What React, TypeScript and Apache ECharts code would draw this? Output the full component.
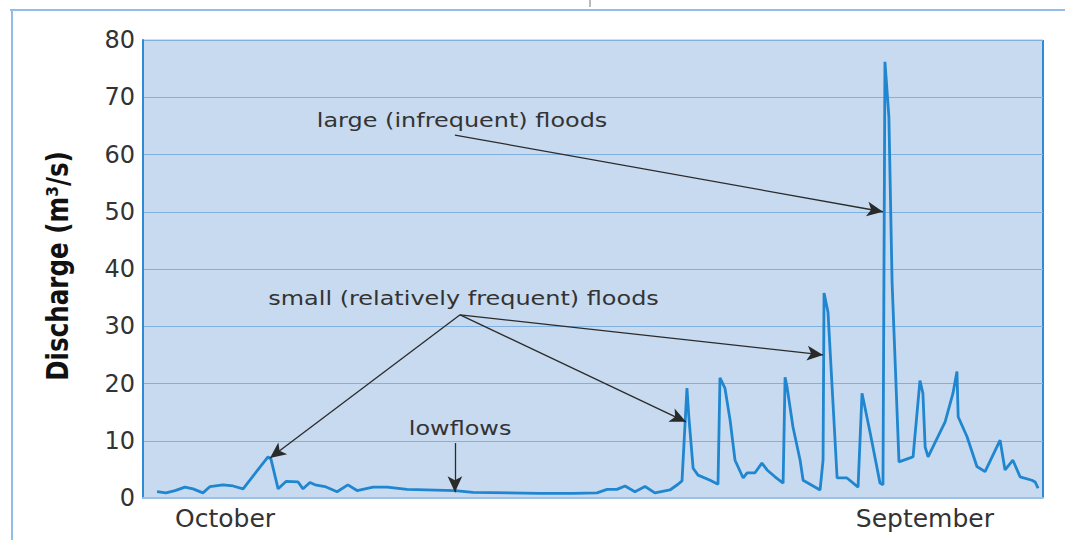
import React, { useEffect, useRef } from "react";
import * as echarts from "echarts";

// Discharge record (day of water year, m³/s)
const days = [
  5.7, 9.3, 13.0, 17.0, 20.3, 24.3, 27.2, 32.4, 36.5, 40.6, 50.7, 51.9, 54.8, 58.0, 62.9, 64.9,
  67.7, 69.8, 73.8, 78.7, 83.1, 86.8, 93.3, 99.0, 107.1, 126.5, 133.8, 161.0, 174.4, 184.1, 188.2,
  192.2, 195.5, 199.5, 203.6, 207.6, 213.7, 217.0, 218.6, 220.6, 221.4, 223.1, 225.1, 230.0, 233.2,
  234.0, 236.0, 238.1, 240.1, 243.4, 245.0, 248.2, 251.0, 253.1, 256.3, 259.6, 260.4, 261.2, 263.6,
  266.5, 267.7, 274.6, 275.8, 276.2, 277.8, 281.5, 285.5, 290.0, 291.6, 294.9, 298.9, 300.1, 300.9,
  302.5, 303.8, 306.6, 311.1, 312.3, 315.1, 316.3, 317.2, 318.4, 325.3, 328.5, 330.1, 330.6, 334.2,
  338.2, 341.5, 347.6, 349.6, 352.8, 355.7, 360.5, 361.8, 363.0,
];
const discharge = [
  1.1, 0.9, 1.3, 1.9, 1.6, 0.9, 2.0, 2.3, 2.1, 1.6, 7.2, 6.8, 1.6, 2.9, 2.8, 1.6,
  2.7, 2.3, 2.0, 1.1, 2.3, 1.3, 1.9, 1.9, 1.5, 1.3, 1.0, 0.8, 0.8, 0.9, 1.5,
  1.5, 2.1, 1.1, 2.0, 0.9, 1.4, 2.4, 3.0, 19.2, 14.0, 5.2, 4.0, 3.1, 2.4,
  21.0, 19.2, 13.6, 6.6, 3.5, 4.4, 4.4, 6.1, 4.9, 3.7, 2.6, 21.1, 19.4, 12.4,
  6.6, 3.1, 1.4, 6.6, 35.8, 32.5, 3.5, 3.5, 1.9, 18.3, 11.4, 2.6, 2.3, 76.2,
  66.6, 37.6, 6.3, 7.0, 7.2, 20.5, 18.3, 8.9, 7.2, 13.3, 18.3, 22.1, 14.2, 10.7,
  5.5, 4.6, 10.1, 4.9, 6.6, 3.7, 3.1, 2.8, 1.7,
];

const xTickDays = [33.3, 317.1];
const xTickLabels = ["October", "September"];
const yMin = 0;
const yMax = 80;
const yStep = 10;
const yAxisTitle = "Discharge (m³/s)";

// Annotations: label text, label position, arrow targets
const annoLabels = ["large (infrequent) floods", "small (relatively frequent) floods", "lowflows"];
const annoLabelPos = [
  [129.4, 66.0],
  [130.0, 34.8],
  [128.6, 12.1],
];
const annoArrowStart = [
  [126.5, 63.4],
  [128.6, 32.0],
  [126.5, 9.6],
];
const annoArrowEnds = [
  [[300.1, 50.0]],
  [
    [51.5, 7.0],
    [220.2, 13.3],
    [275.8, 25.0],
  ],
  [[126.5, 1.0]],
];

export default function App() {
  const ref = useRef<HTMLDivElement>(null);
  useEffect(() => {
    if (!ref.current) return;
    const chart = echarts.init(ref.current, undefined, { renderer: "svg" });
    const seriesData = days.map((d, i) => [d, discharge[i]]);
    const arrows: any[] = [];
    annoArrowEnds.forEach((ends, i) => {
      ends.forEach((e) => {
        arrows.push([{ coord: annoArrowStart[i] }, { coord: e }]);
      });
    });
    const frameGraphics: any[] = [
      { type: "line", shape: { x1: 10, y1: 10, x2: 1065, y2: 10 }, style: { stroke: "#93bde6", lineWidth: 2 } },
      { type: "line", shape: { x1: 12, y1: 10, x2: 12, y2: 540 }, style: { stroke: "#93bde6", lineWidth: 2 } },
      { type: "line", shape: { x1: 590, y1: 0, x2: 590, y2: 7 }, style: { stroke: "#777777", lineWidth: 1 } },
      { type: "line", shape: { x1: 1043, y1: 40, x2: 1043, y2: 498 }, style: { stroke: "#2f8ad6", lineWidth: 2 } },
      {
        type: "text",
        x: 58,
        y: 266,
        rotation: Math.PI / 2,
        scaleX: 0.82,
        style: {
          text: yAxisTitle,
          fill: "#111111",
          font: "bold 30px 'DejaVu Sans', sans-serif",
          textAlign: "center",
          textVerticalAlign: "middle",
        },
      },
    ];
    chart.setOption({
      animation: false,
      backgroundColor: "#ffffff",
      grid: {
        left: 143,
        right: 22,
        top: 40,
        bottom: 42,
        show: true,
        backgroundColor: "#c7daf0",
        borderColor: "#9cc0e6",
        borderWidth: 1,
      },
      xAxis: {
        type: "value",
        min: 0,
        max: 365,
        axisLine: { show: true, onZero: false, lineStyle: { color: "#9cc0e6", width: 2 } },
        axisTick: { show: false },
        splitLine: { show: false },
        axisLabel: {
          customValues: xTickDays,
          formatter: (v: number) => {
            const i = xTickDays.findIndex((d) => Math.abs(d - v) < 0.01);
            return i >= 0 ? xTickLabels[i] : "";
          },
          color: "#333333",
          fontFamily: "DejaVu Sans",
          fontSize: 25,
          margin: 8,
        },
      },
      yAxis: {
        type: "value",
        min: yMin,
        max: yMax,
        interval: yStep,
        axisLine: { show: true, lineStyle: { color: "#2f8ad6", width: 2 } },
        axisTick: { show: false },
        splitLine: { show: true, lineStyle: { color: "#7fb0e0", width: 1.2 } },
        axisLabel: {
          color: "#333333",
          fontFamily: "DejaVu Sans",
          fontSize: 24,
          margin: 8,
        },
      },
      graphic: frameGraphics,
      series: [
        {
          type: "line",
          data: seriesData,
          showSymbol: false,
          symbol: "none",
          lineStyle: { color: "#1f86cf", width: 2.8 },
          z: 3,
          markLine: {
            silent: true,
            symbol: ["none", "arrow"],
            symbolSize: [11, 16],
            label: { show: false },
            lineStyle: { color: "#2a2a2a", width: 1.3, type: "solid" },
            data: arrows,
            z: 4,
          },
        },
      ],
    });
    // annotation labels anchored at data coordinates, horizontally stretched like the source
    const annoGraphics = annoLabels.map((t, i) => {
      const p = chart.convertToPixel({ gridIndex: 0 }, annoLabelPos[i]) as number[];
      return {
        type: "text",
        x: p[0],
        y: p[1],
        scaleX: 1.26,
        z: 10,
        style: {
          text: t,
          fill: "#333333",
          font: "19px 'DejaVu Sans', sans-serif",
          textAlign: "center",
          textVerticalAlign: "middle",
          backgroundColor: "#c7daf0",
        },
      };
    });
    chart.setOption({ graphic: [...frameGraphics, ...annoGraphics] });
    return () => chart.dispose();
  }, []);
  return (
    <div
      ref={ref}
      style={{ position: "absolute", left: 0, top: 0, width: 1065, height: 540 }}
    />
  );
}
